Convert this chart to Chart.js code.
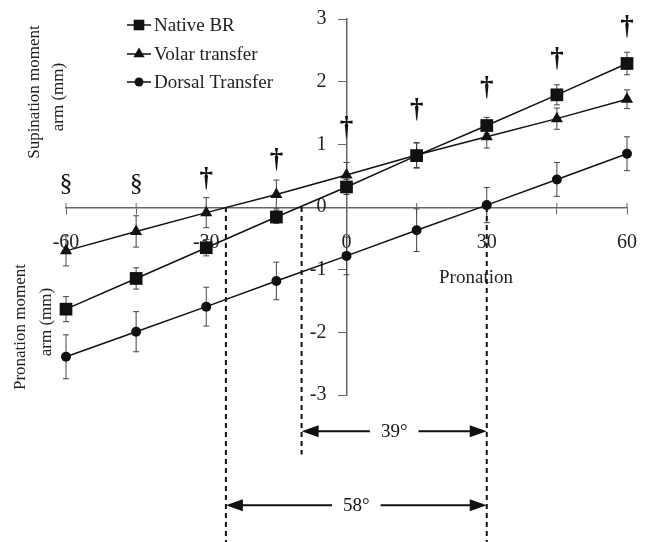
<!DOCTYPE html>
<html><head><meta charset="utf-8">
<script src="https://cdn.jsdelivr.net/npm/chart.js@4/dist/chart.umd.min.js"></script>
<style>html,body{margin:0;padding:0;background:#fff}#wrap{width:649px;height:542px}</style>
</head><body><div id="wrap"><canvas id="c" width="649" height="542"></canvas></div>
<script>
// ---- data ----
const angles = [-60,-45,-30,-15,0,15,30,45,60];
const nativeBR = [-1.63,-1.14,-0.65,-0.16,0.32,0.82,1.30,1.79,2.29];
const nativeErr = [0.20,0.17,0.13,0.10,0.12,0.20,0.13,0.16,0.18];
const volar = [-0.70,-0.39,-0.09,0.20,0.51,0.83,1.12,1.41,1.72];
const volarErr = [0.24,0.25,0.24,0.23,0.20,0.20,0.18,0.17,0.15];
const dorsal = [-2.39,-1.99,-1.59,-1.18,-0.78,-0.37,0.03,0.44,0.85];
const dorsalErr = [0.35,0.32,0.31,0.30,0.30,0.34,0.28,0.27,0.27];
const seriesNames = ['Native BR','Volar transfer','Dorsal Transfer'];
const xTickLabels = [-60,-30,0,30,60];
const yTickLabels = [-3,-2,-1,0,1,2,3];
const sigMarks = ['§','§','†','†','†','†','†','†','†'];
const sigLevel = [0.37,0.37,0.45,0.75,1.26,1.55,1.90,2.36,2.87];
const crossings = [-25.8,-9.6,30];
const crossingEnds = [-5.4,-3.95,-5.4];
const spanLabels = ['39°','58°'];
const spanFrom = [-9.6,-25.8];
const spanTo = [30,30];
const spanLevel = [-3.58,-4.76];

const FONT = "'Liberation Serif','Times New Roman',serif";
const INK = '#111';
const AXIS = '#666';

const mk = vals => angles.map((x,i)=>({x, y: vals[i]}));
const errs = [nativeErr, volarErr, dorsalErr];

function drawMarker(ctx, style, x, y, r){
  ctx.beginPath();
  if(style==='rect'){ const s=r*Math.SQRT1_2; ctx.rect(x-s,y-s,2*s,2*s); }
  else if(style==='triangle'){
    ctx.moveTo(x, y - r);
    ctx.lineTo(x + r*Math.cos(Math.PI/6), y + r*0.5);
    ctx.lineTo(x - r*Math.cos(Math.PI/6), y + r*0.5);
    ctx.closePath();
  } else { ctx.arc(x,y,r,0,Math.PI*2); }
  ctx.fill();
}

const overlay = {
  id:'overlay',
  beforeDatasetsDraw(chart){
    const {ctx, scales:{x, y}} = chart;
    ctx.save();
    ctx.strokeStyle = '#444'; ctx.lineWidth = 1;
    chart.data.datasets.forEach((ds, di) => {
      ds.data.forEach((p, i) => {
        const e = errs[di][i];
        const px = x.getPixelForValue(p.x);
        const t = y.getPixelForValue(p.y + e), b = y.getPixelForValue(p.y - e);
        ctx.beginPath();
        ctx.moveTo(px, t); ctx.lineTo(px, b);
        ctx.moveTo(px-3, t); ctx.lineTo(px+3, t);
        ctx.moveTo(px-3, b); ctx.lineTo(px+3, b);
        ctx.stroke();
      });
    });
    // dashed crossing lines
    ctx.strokeStyle = INK; ctx.lineWidth = 2; ctx.setLineDash([5,4]);
    crossings.forEach((c, i) => {
      const px = x.getPixelForValue(c);
      ctx.beginPath();
      ctx.moveTo(px, y.getPixelForValue(0));
      ctx.lineTo(px, y.getPixelForValue(crossingEnds[i]));
      ctx.stroke();
    });
    ctx.setLineDash([]);
    // upward part of x ticks
    ctx.strokeStyle = AXIS; ctx.lineWidth = 1;
    const y0 = y.getPixelForValue(0);
    x.ticks.forEach(t => {
      const px = x.getPixelForValue(t.value);
      ctx.beginPath(); ctx.moveTo(px, y0-4); ctx.lineTo(px, y0); ctx.stroke();
    });
    ctx.restore();
  },
  afterDatasetsDraw(chart){
    const {ctx, scales:{x, y}} = chart;
    ctx.save();
    ctx.fillStyle = INK;
    // significance marks
    ctx.textAlign = 'center'; ctx.textBaseline = 'middle';
    angles.forEach((a, i) => {
      ctx.font = (sigMarks[i]==='§' ? '26px ' : 'bold 27px ') + FONT;
      ctx.fillText(sigMarks[i], x.getPixelForValue(a), y.getPixelForValue(sigLevel[i]));
    });
    // span arrows
    ctx.font = '19px ' + FONT;
    spanLabels.forEach((lab, i) => {
      const x1 = x.getPixelForValue(spanFrom[i]), x2 = x.getPixelForValue(spanTo[i]);
      const py = y.getPixelForValue(spanLevel[i]);
      const mid = (x1+x2)/2;
      const w = ctx.measureText(lab).width;
      const gap = w/2 + 11;
      ctx.strokeStyle = INK; ctx.lineWidth = 2;
      ctx.beginPath();
      ctx.moveTo(x1+10, py); ctx.lineTo(mid-gap, py);
      ctx.moveTo(mid+gap, py); ctx.lineTo(x2-10, py);
      ctx.stroke();
      ctx.beginPath(); ctx.moveTo(x1, py); ctx.lineTo(x1+17, py-6); ctx.lineTo(x1+17, py+6); ctx.closePath(); ctx.fill();
      ctx.beginPath(); ctx.moveTo(x2, py); ctx.lineTo(x2-17, py-6); ctx.lineTo(x2-17, py+6); ctx.closePath(); ctx.fill();
      ctx.fillText(lab, mid, py+1);
    });
    // x title
    ctx.font = '19px ' + FONT; ctx.fillStyle = '#222';
    ctx.fillText('Pronation', 476, 278);
    // y titles
    ctx.font = '17px ' + FONT;
    const vt = (t, cx, cy) => { ctx.save(); ctx.translate(cx, cy); ctx.rotate(-Math.PI/2); ctx.fillText(t, 0, 0); ctx.restore(); };
    vt('Supination moment', 35, 92);
    vt('arm (mm)', 59, 97);
    vt('Pronation moment', 21, 327);
    vt('arm (mm)', 47, 322);
    // legend
    ctx.textAlign = 'left'; ctx.font = '19px ' + FONT;
    const rows = [25, 54, 82];
    chart.data.datasets.forEach((ds, i) => {
      const ly = rows[i];
      ctx.strokeStyle = INK; ctx.lineWidth = 1.5;
      ctx.beginPath(); ctx.moveTo(127, ly); ctx.lineTo(151, ly); ctx.stroke();
      ctx.fillStyle = INK;
      drawMarker(ctx, ds.pointStyle, 139, ly, ds.pointStyle==='rect'?7.5:(ds.pointStyle==='triangle'?6.5:4.5));
      ctx.fillStyle = '#222';
      ctx.fillText(seriesNames[i], 154, ly+1);
    });
    ctx.restore();
  }
};

const common = {borderColor: INK, backgroundColor: INK, pointBackgroundColor: INK, pointBorderColor: INK,
  borderWidth: 1.5, tension: 0, clip: false, pointBorderWidth: 0};

new Chart(document.getElementById('c'), {
  type: 'line',
  data: { datasets: [
    Object.assign({label: seriesNames[0], data: mk(nativeBR), pointStyle: 'rect', pointRadius: 9}, common),
    Object.assign({label: seriesNames[1], data: mk(volar), pointStyle: 'triangle', pointRadius: 7}, common),
    Object.assign({label: seriesNames[2], data: mk(dorsal), pointStyle: 'circle', pointRadius: 5}, common)
  ]},
  options: {
    responsive: false, animation: false, devicePixelRatio: 1,
    layout: {padding: {left: 66, right: 22, top: 19, bottom: 147}},
    plugins: {legend: {display: false}, tooltip: {enabled: false}},
    scales: {
      x: {
        type: 'linear', position: 'center', min: -60, max: 60,
        afterBuildTicks: s => { s.ticks = angles.map(v => ({value: v})); },
        ticks: {autoSkip: false, maxRotation: 0, padding: 9, color: '#222',
          font: {family: FONT, size: 20, lineHeight: 2.1},
          callback: v => xTickLabels.includes(v) ? String(v) : ''},
        grid: {drawOnChartArea: false, drawTicks: true, tickLength: 6, color: AXIS, lineWidth: 1},
        border: {display: true, color: AXIS, width: 1.5}
      },
      y: {
        type: 'linear', position: 'center', min: -3, max: 3,
        afterBuildTicks: s => { s.ticks = yTickLabels.map(v => ({value: v})); },
        ticks: {padding: 12, color: '#222', font: {family: FONT, size: 20, lineHeight: 0.6},
          callback: v => String(v)},
        grid: {drawOnChartArea: false, drawTicks: true, tickLength: 8, color: AXIS, lineWidth: 1},
        border: {display: true, color: AXIS, width: 1.5}
      }
    }
  },
  plugins: [overlay]
});
</script>
</body></html>
